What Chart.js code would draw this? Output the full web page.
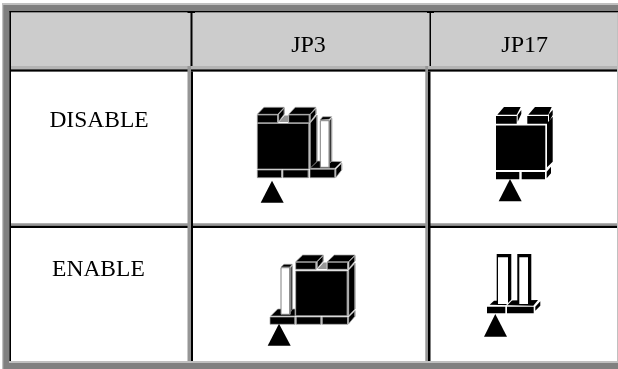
<!DOCTYPE html>
<html>
<head>
<meta charset="utf-8">
<style>html,body{margin:0;padding:0;background:#fff}canvas{display:block}</style>
<script src="https://cdn.jsdelivr.net/npm/chart.js@4/dist/chart.umd.min.js"></script>
</head>
<body>
<canvas id="c" width="618" height="369"></canvas>
<script>
// Text of the table
const columnLabels = ["JP3", "JP17"];
const rowLabels = ["DISABLE", "ENABLE"];

// Rectangle corners [x0, y0, x1, y1] in axis units
const frameLight = [2, 3, 618, 369];
const frameDark = [3.3, 5, 618, 369];
const frameInner = [9, 361, 618, 363];
const outerBlackTop = [9.5, 11, 618, 12.3];
const outerBlackLeft = [9.5, 11, 11, 361];
const headerCell = [11, 12.3, 617, 66];
const headerShade = [11, 66, 617, 69.5];
const bodyCell = [11, 71.5, 617, 361];
const rightEdge = [617, 12, 618, 363];
const headerRule = [11, 69.5, 617, 71.5];
const rowRuleGrey = [11, 223.3, 617, 225.7];
const rowRuleBlack = [11, 225.7, 617, 228];
const col1Grey = [187.5, 66, 191, 361];
const col1Black = [191, 71.5, 193, 361];
const col1Head = [190.5, 12, 192.5, 66];
const col1Tee = [187.5, 11, 195, 13];
const col2Grey = [425.3, 66, 428, 361];
const col2Black = [428, 71.5, 430.5, 361];
const col2Head = [429.5, 12, 431, 66];
const col2Tee = [427, 11, 434, 13];

// JP3 / DISABLE jumper outline vertices
const jp3OffBlack = [
  [[257.3,115],[277.7,115],[277.7,122.7],[257.3,122.7]],
  [[257.3,114.3],[264,107.3],[284.3,107.3],[277.7,114.3]],
  [[278.7,114.3],[284.3,108],[284.3,114],[278.7,121.7]],
  [[288.7,115],[309.3,115],[309.3,122.7],[288.7,122.7]],
  [[288.7,114.3],[295.3,107.3],[316,107.3],[310,114.3]],
  [[310.3,114.3],[316,108.7],[316,114],[310.3,121.7]],
  [[257.3,123.5],[309,123.5],[309,169],[257.3,169]],
  [[310.3,123],[317,115],[317,161.7],[310.3,169]],
  [[257.3,170],[281.7,170],[281.7,177.7],[257.3,177.7]],
  [[283,170],[308.3,170],[308.3,177.7],[283,177.7]],
  [[310,169.3],[335,169.3],[335,177.7],[310,177.7]],
  [[310,168.3],[317.7,161],[341.7,161.7],[335,168.3]],
  [[336,169],[341.7,163.3],[341.7,170],[336,177.3]],
  [[320,120],[322.7,116.7],[331.7,116.7],[329.3,119.3]],
  [[330,120],[331.7,118.3],[331.7,160.7],[330,163]]
];
const jp3OffArrow = [[260.7,202.7],[272,180.7],[283.7,202.7]];
const jp3OffNotch = [[[279,122],[284.5,115.5],[288,115.5],[288,122]]];
const jp3OffPin = [[[320.3,120.7],[329.3,120.7],[329.3,167.3],[320.3,167.3]]];

// JP3 / ENABLE
const jp3OnBlack = [
  [[295.7,262.3],[316,262.3],[316,269.3],[295.7,269.3]],
  [[295.7,261.7],[302.7,255],[323.3,255],[316.7,261.7]],
  [[317.3,261.7],[323.3,255.7],[323.3,261],[317.3,268.3]],
  [[327.3,262.3],[347.7,262.3],[347.7,269.3],[327.3,269.3]],
  [[327.3,261.7],[334.3,255],[355,255],[348.3,261.7]],
  [[349,261.7],[355,255.7],[355,261],[349,268.3]],
  [[295.7,271],[347.3,271],[347.3,315.7],[295.7,315.7]],
  [[348.7,270],[355,263.3],[355,309],[348.7,315.7]],
  [[270,317],[295,317],[295,324.3],[270,324.3]],
  [[296.3,317],[321,317],[321,324.3],[296.3,324.3]],
  [[322.3,317],[347.7,317],[347.7,324.3],[322.3,324.3]],
  [[348.7,317],[355,310.7],[355,316.3],[348.7,323.7]],
  [[270.7,316],[277.7,309],[295.3,309],[295.3,316]],
  [[281,267],[284,264.3],[292.3,264.3],[290,267]],
  [[290.7,267.7],[292.3,265.7],[292.3,309],[290.7,311.7]]
];
const jp3OnArrow = [[267.7,345.7],[279,323.7],[290.7,345.7]];
const jp3OnNotch = [[[317.8,269],[323.5,262.5],[326.7,262.5],[326.7,269]]];
const jp3OnPin = [[[281,267.7],[290,267.7],[290,314.3],[281,314.3]]];

// JP17 / DISABLE
const jp17OffBlack = [
  [[496,116],[516.7,116],[516.7,123.7],[496,123.7]],
  [[497.3,114.7],[504,107],[520.7,107],[516.7,114.7]],
  [[517.7,115],[521.3,110],[521.3,114],[517.7,121.7]],
  [[527.3,116],[548,116],[548,123.7],[527.3,123.7]],
  [[528.3,114.7],[535,107],[551.7,107],[548.3,114.7]],
  [[549,114],[552.7,110],[552.7,115],[549,121.7]],
  [[496,125.5],[545.3,125.5],[545.3,170],[496,170]],
  [[547,123.3],[552.7,116.7],[552.7,161.7],[547,167.3]],
  [[496,172],[519.3,172],[519.3,179.3],[496,179.3]],
  [[521.7,172],[545,172],[545,179.3],[521.7,179.3]],
  [[546.7,171.7],[551,166.7],[551,173.3],[546.7,178.3]],
  [[498.7,201.3],[510,179],[521.7,201.3]]
];

// JP17 / ENABLE
const jp17OnBlack = [
  [[496.7,254],[511.3,254],[511.3,304.7],[496.7,304.7]],
  [[517.3,254],[531.3,254],[531.3,304.7],[517.3,304.7]],
  [[489.7,304.7],[494,300.7],[538,300],[533.3,305.7]],
  [[487,306.7],[505.3,306.7],[505.3,313.3],[487,313.3]],
  [[507,306.7],[533.7,306.7],[533.7,313.3],[507,313.3]],
  [[535.3,306.7],[540.3,301.3],[540.3,305.7],[535.3,310.7]],
  [[484,336.7],[495.3,314],[507,336.7]]
];
const jp17OnPins = [
  [[498,257.3],[508,257.3],[508,304],[498,304]],
  [[519.3,257.3],[528,257.3],[528,304],[519.3,304]]
];
const jp17OnGap = [[[505.3,305.7],[511.5,299.5],[513,299.5],[506.8,305.7]]];

const BLACK = "#000000", WHITE = "#ffffff", GREY = "#808080", SIDE = "#969696",
      LIGHT = "#c0c0c0", HEAD = "#cccccc", SHADE = "#b4b4b4", SEAM = "#a8a8a8";

const box = r => [[r[0],r[1]],[r[2],r[1]],[r[2],r[3]],[r[0],r[3]]];
const layers = [];
const add = (poly, fill, stroke, w) => layers.push({poly, fill, stroke, w});
const addAll = (polys, fill, stroke, w) => polys.forEach(p => add(p, fill, stroke, w));

add(box(frameLight), LIGHT);
add(box(frameDark), GREY);
add(box(frameInner), LIGHT);
add(box(rightEdge), LIGHT);
add(box(headerCell), HEAD);
add(box(headerShade), SHADE);
add(box(bodyCell), WHITE);
add(box(outerBlackTop), BLACK);
add(box(outerBlackLeft), BLACK);
add(box(headerRule), BLACK);
add(box(rowRuleGrey), SIDE);
add(box(rowRuleBlack), BLACK);
[col1Grey, col2Grey].forEach(r => add(box(r), SIDE));
[col1Black, col2Black, col1Head, col2Head, col1Tee, col2Tee].forEach(r => add(box(r), BLACK));
addAll(jp3OffNotch, SIDE);
addAll(jp3OnNotch, SIDE);
addAll(jp3OffBlack, BLACK, SEAM, 0.7);
addAll(jp3OnBlack, BLACK, SEAM, 0.7);
add(jp3OffArrow, BLACK);
add(jp3OnArrow, BLACK);
addAll(jp17OffBlack, BLACK);
addAll(jp17OnBlack, BLACK);
addAll(jp3OffPin, WHITE, GREY, 1);
addAll(jp3OnPin, WHITE, GREY, 1);
addAll(jp17OnPins, WHITE);
addAll(jp17OnGap, WHITE);

// The library paints dataset 0 last, so reverse for painter's order.
const datasets = layers.map(l => ({
  data: [...l.poly, l.poly[0]].map(([x, y]) => ({x, y})),
  showLine: true,
  fill: "shape",
  backgroundColor: l.fill,
  borderColor: l.stroke || "rgba(0,0,0,0)",
  borderWidth: l.w || 0,
  pointRadius: 0,
  tension: 0
})).reverse();

// Anchor of each text: [x, baseline y]
const columnAnchors = [[308.5, 51.5], [524.7, 51.5]];
const rowAnchors = [[99, 126.7], [98.4, 276.3]];

const cellText = {
  id: "cellText",
  afterDatasetsDraw(chart) {
    const {ctx, scales: {x, y}} = chart;
    ctx.save();
    ctx.fillStyle = BLACK;
    ctx.textAlign = "center";
    ctx.textBaseline = "alphabetic";
    const put = (t, a) => ctx.fillText(t, x.getPixelForValue(a[0]), y.getPixelForValue(a[1]));
    ctx.font = '24px "Liberation Serif"';
    columnLabels.forEach((t, i) => put(t, columnAnchors[i]));
    ctx.font = '23.5px "Liberation Serif"';
    rowLabels.forEach((t, i) => put(t, rowAnchors[i]));
    ctx.restore();
  }
};

new Chart(document.getElementById("c"), {
  type: "scatter",
  data: {datasets},
  options: {
    responsive: false,
    animation: false,
    layout: {padding: 0},
    plugins: {legend: {display: false}, tooltip: {enabled: false}, title: {display: false}},
    events: [],
    scales: {
      x: {type: "linear", min: 0, max: 618, display: false},
      y: {type: "linear", min: 0, max: 369, reverse: true, display: false}
    }
  },
  plugins: [cellText]
});
</script>
</body>
</html>
